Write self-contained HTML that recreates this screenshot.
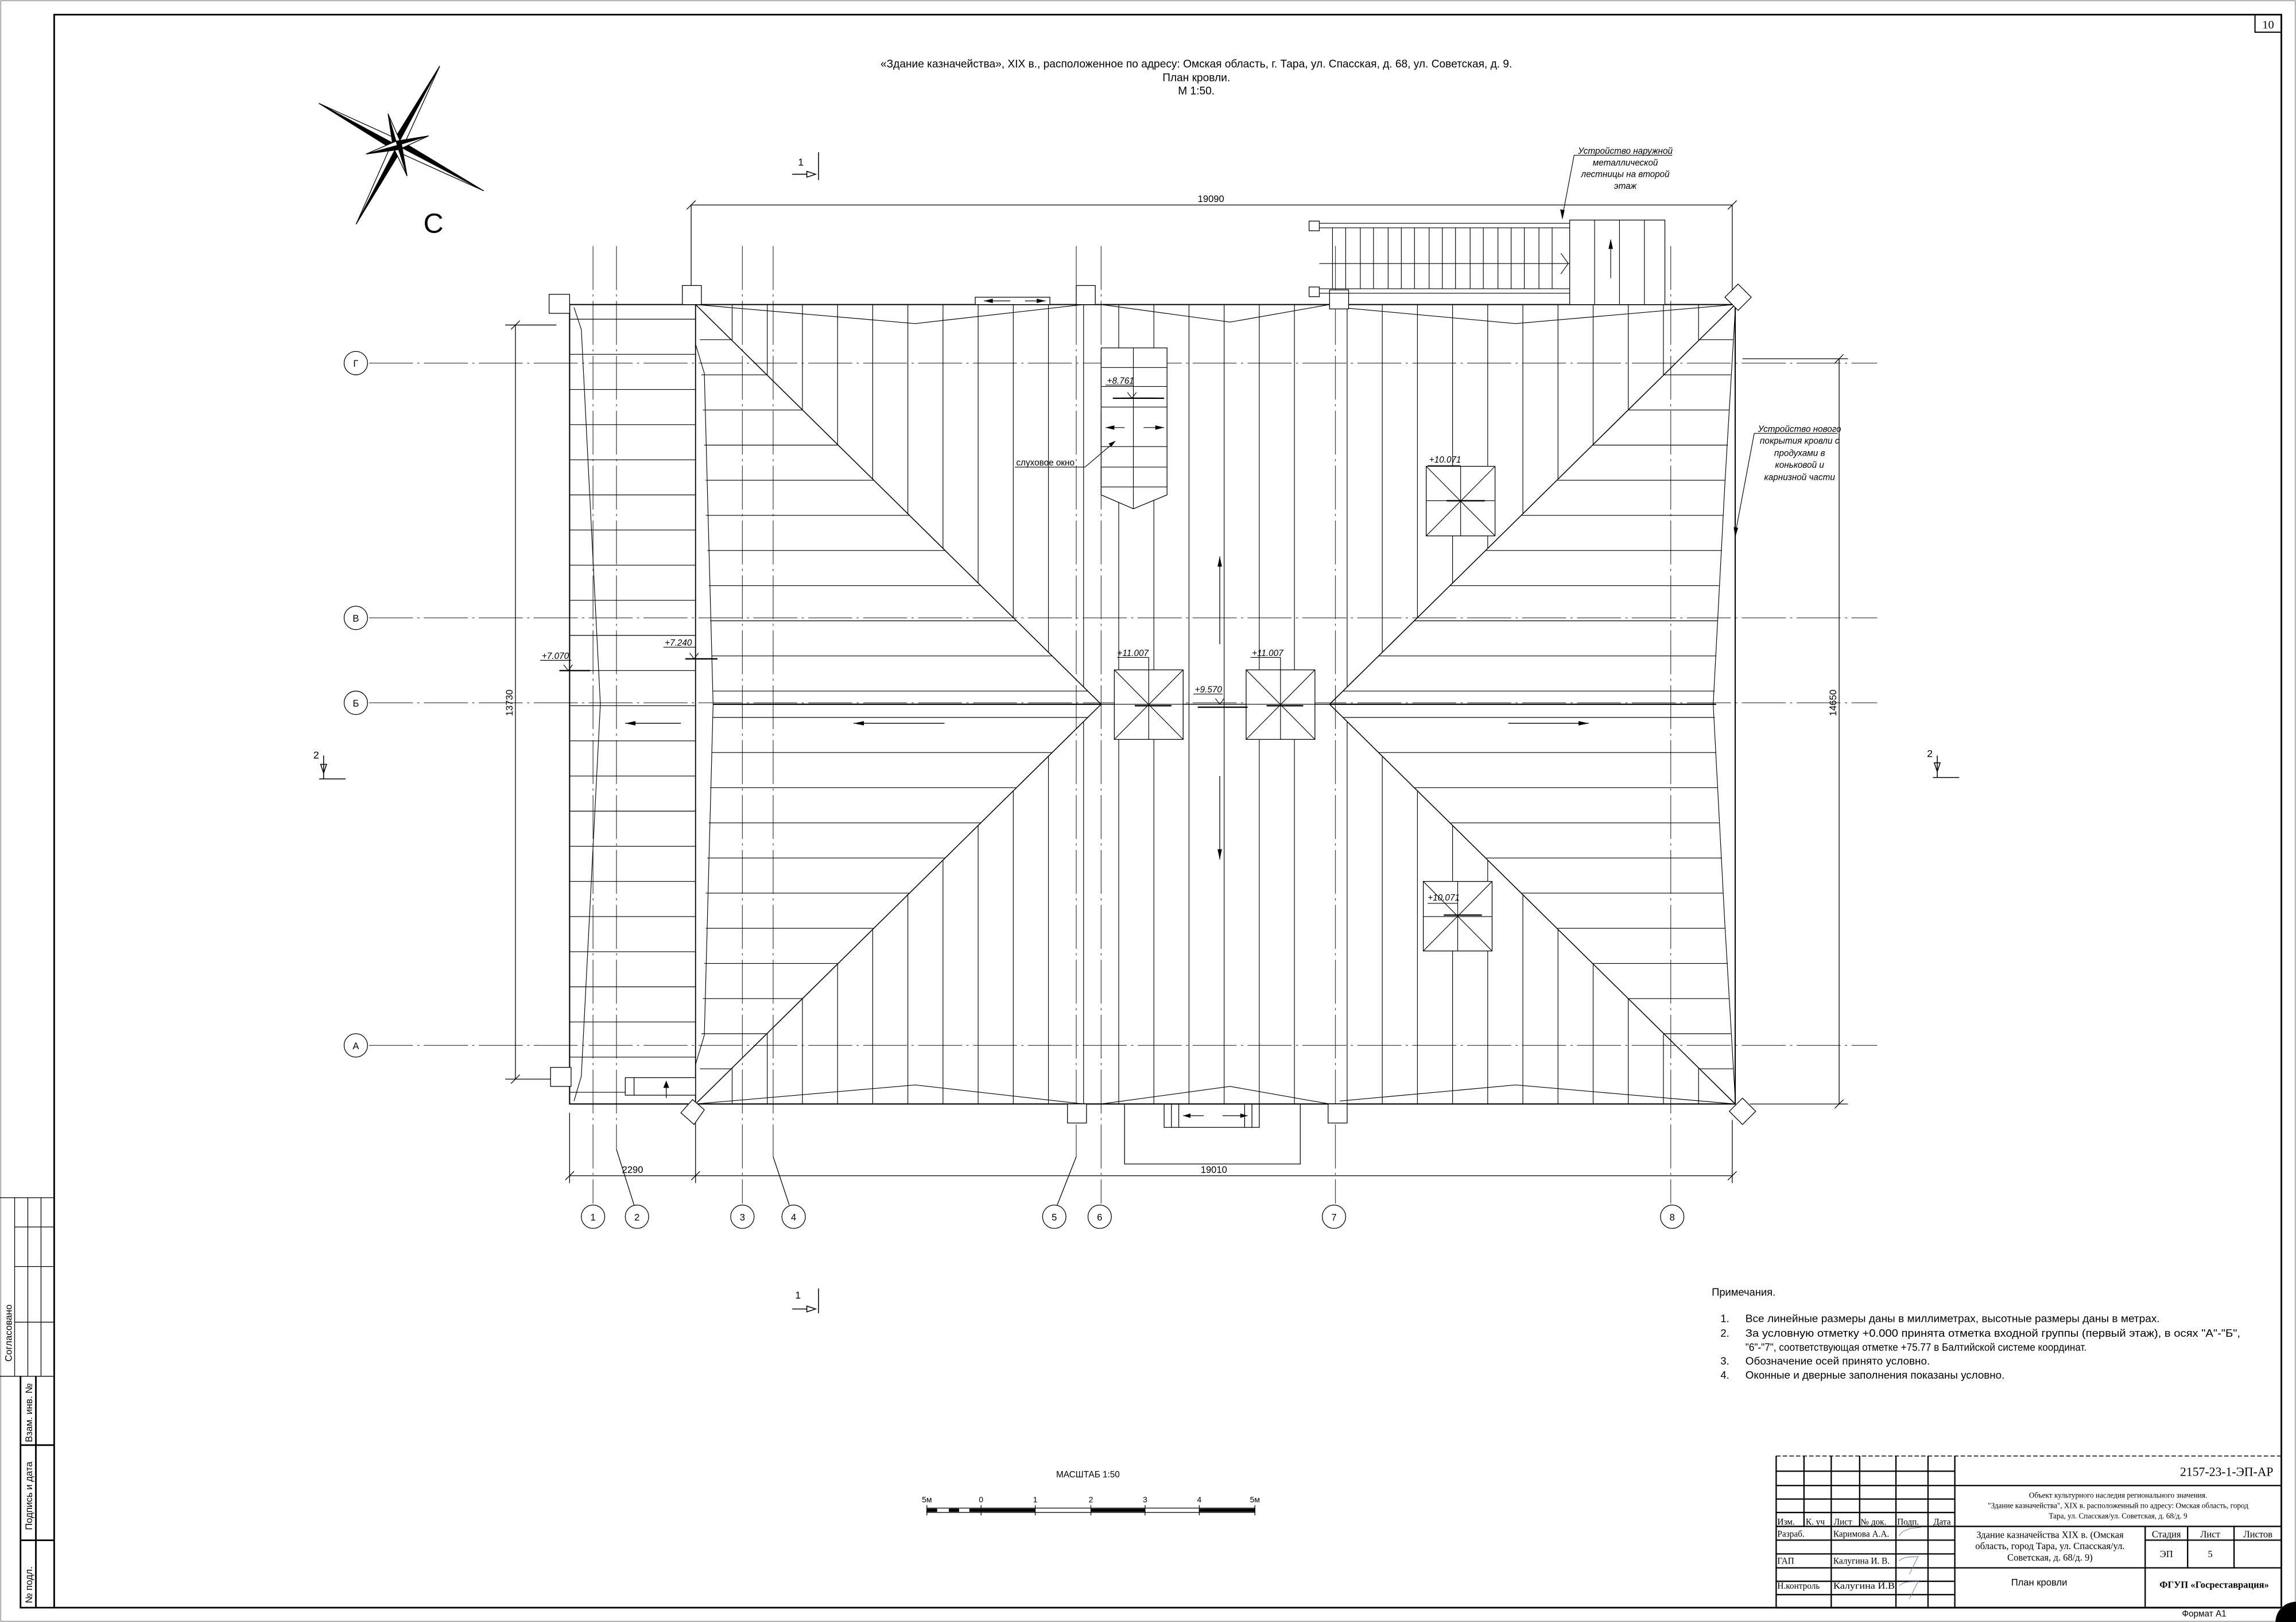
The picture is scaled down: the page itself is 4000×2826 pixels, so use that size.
<!DOCTYPE html>
<html><head><meta charset="utf-8"><style>
html,body{margin:0;padding:0;background:#fff;}
svg{display:block;}
text{font-family:"Liberation Sans Narrow","Liberation Sans","DejaVu Sans",sans-serif;fill:#000;}
.s{font-family:"Liberation Serif","DejaVu Serif",serif;}
</style></head><body>
<svg width="4000" height="2826" viewBox="0 0 1568 1107.8" xmlns="http://www.w3.org/2000/svg">
<rect x="0" y="0" width="1568" height="1107.8" fill="#fff"/>
<rect x="0.5" y="0.5" width="1567" height="1106.8" fill="none" stroke="#999" stroke-width="0.6"/>
<!-- frame -->
<rect x="37" y="10" width="1521" height="1088" fill="none" stroke="#000" stroke-width="1.1"/>
<rect x="1540" y="10" width="18" height="12" fill="none" stroke="#000" stroke-width="0.8"/>
<text x="1549" y="19.5" font-size="8" text-anchor="middle" class="s">10</text>
<path d="M1568 1094 A14 14 0 0 0 1554 1107.8 L1568 1107.8Z" fill="#000"/>

<!-- left stamp -->
<g fill="none" stroke="#000" stroke-width="0.5">
<path d="M0 818H37M10 818V940M19 818V940M28 818V940M10 838H37M10 865H37M10 903H37M0 940H37"/>
</g>
<g fill="none" stroke="#000" stroke-width="1.1">
<path d="M14 940V1098H37M14 987H37M14 1052H37M24.5 940V1098"/>
</g>
<text font-size="6.5" transform="translate(8,930) rotate(-90)">Согласовано</text>
<text font-size="6.5" transform="translate(22,985) rotate(-90)">Взам. инв. №</text>
<text font-size="6.5" transform="translate(22,1045) rotate(-90)">Подпись и дата</text>
<text font-size="6.5" transform="translate(22,1095) rotate(-90)">№ подл.</text>

<!-- title -->
<text x="817" y="46" font-size="7.5" text-anchor="middle">«Здание казначейства», XIX в., расположенное по адресу: Омская область, г. Тара, ул. Спасская, д. 68, ул. Советская, д. 9.</text>
<text x="817" y="55.5" font-size="7.5" text-anchor="middle">План кровли.</text>
<text x="817" y="64.5" font-size="7.5" text-anchor="middle">М 1:50.</text>

<!-- compass -->
<g stroke="#000" stroke-width="0.5" stroke-linejoin="miter">
<polygon points="300.3,45.1 271.3,99.3 267.8,97.4" fill="#000"/>
<polygon points="300.3,45.1 271.3,99.3 274.8,101.2" fill="#fff"/>
<polygon points="243.2,153.1 271.3,99.3 274.8,101.2" fill="#000"/>
<polygon points="243.2,153.1 271.3,99.3 267.8,97.4" fill="#fff"/>
<polygon points="217.8,70.6 271.3,99.3 269.4,102.8" fill="#000"/>
<polygon points="217.8,70.6 271.3,99.3 273.2,95.8" fill="#fff"/>
<polygon points="330.3,130.3 271.3,99.3 273.2,95.8" fill="#000"/>
<polygon points="330.3,130.3 271.3,99.3 269.4,102.8" fill="#fff"/>
<polygon points="265,77.7 271.3,99.3 268.4,100.1" fill="#000"/>
<polygon points="265,77.7 271.3,99.3 274.2,98.5" fill="#fff"/>
<polygon points="292.7,92.8 271.3,99.3 270.4,96.4" fill="#000"/>
<polygon points="292.7,92.8 271.3,99.3 272.2,102.2" fill="#fff"/>
<polygon points="278,120.2 271.3,99.3 274.2,98.4" fill="#000"/>
<polygon points="278,120.2 271.3,99.3 268.4,100.2" fill="#fff"/>
<polygon points="250,105.2 271.3,99.3 272.1,102.2" fill="#000"/>
<polygon points="250,105.2 271.3,99.3 270.5,96.4" fill="#fff"/>
</g>
<text x="296" y="159" font-size="19" text-anchor="middle" font-family="Liberation Sans">С</text>

<!-- section marks -->
<g fill="none" stroke="#000" stroke-width="0.6">
<path d="M559 104V123M541 119H551M551 117L557 119L551 121Z"/>
<path d="M559 880V897M541 894H551M551 892L557 894L551 896Z"/>
<path d="M218 532H236M221 532V516M219 522L221 528L223 522Z"/>
<path d="M1320 531H1338M1323 531V516M1321 521L1323 527L1325 521Z"/>
</g>
<text x="545" y="113" font-size="7">1</text>
<text x="543" y="887" font-size="7">1</text>
<text x="214" y="518" font-size="7">2</text>
<text x="1316" y="517" font-size="7">2</text>

<!-- axes dashed -->
<g fill="none" stroke="#444" stroke-width="0.5" stroke-dasharray="30 3 1.5 3">
<path d="M252 248H1282M252 422H1282M252 480H1282M252 714H1282"/>
<path d="M405 168V822M421 168V785M507 168V822M528 168V790M735 168V790M752 168V822M912 168V822M1141 168V822"/>
</g>
<g fill="none" stroke="#000" stroke-width="0.5">
<path d="M421 785L433 823M528 790L539 823M735 790L722 823"/>
<circle cx="243" cy="248" r="8"/><circle cx="243" cy="422" r="8"/><circle cx="243" cy="480" r="8"/><circle cx="243" cy="714" r="8"/>
<circle cx="405" cy="831" r="8"/><circle cx="435" cy="831" r="8"/><circle cx="507" cy="831" r="8"/><circle cx="542" cy="831" r="8"/>
<circle cx="720" cy="831" r="8"/><circle cx="751" cy="831" r="8"/><circle cx="911" cy="831" r="8"/><circle cx="1142" cy="831" r="8"/>
</g>
<g font-size="6.5" text-anchor="middle">
<text x="243" y="250.5">Г</text><text x="243" y="424.5">В</text><text x="243" y="482.5">Б</text><text x="243" y="716.5">А</text>
<text x="405" y="833.5">1</text><text x="435" y="833.5">2</text><text x="507" y="833.5">3</text><text x="542" y="833.5">4</text>
<text x="720" y="833.5">5</text><text x="751" y="833.5">6</text><text x="911" y="833.5">7</text><text x="1142" y="833.5">8</text>
</g>

<!-- dimensions -->
<g fill="none" stroke="#000" stroke-width="0.5">
<path d="M472 140H1183M472 140V195M1183 140V200M469 143L475 137M1180 143L1186 137"/>
<path d="M389 803H1183M389 760V808M475 760V808M1183 765V808M386 806L392 800M472 806L478 800M1180 806L1186 800"/>
<path d="M352 222V737M345 222H380M345 737H380M349 225L355 219M349 740L355 734"/>
<path d="M1256 245V754M1190 245H1262M1195 754H1262M1253 248L1259 242M1253 757L1259 751"/>
</g>
<g font-size="6.5" text-anchor="middle">
<text x="827" y="138">19090</text>
<text x="829" y="801">19010</text>
<text x="432" y="801">2290</text>
<text transform="translate(350,480) rotate(-90)">13730</text>
<text transform="translate(1254,480) rotate(-90)">14650</text>
</g>

<!-- roof -->
<g fill="none" stroke="#000" stroke-width="0.45">
<!-- outline -->
<path d="M389 208H1185V754H389Z" stroke-width="0.8"/>
<path d="M475 208V754" stroke-width="0.7"/>
<!-- left strip -->
<path d="M389 218H475M389 242H475M389 266H475M389 290H475M389 314H475M389 338H475M389 362H475M389 386H475M389 410H475M389 434H475M389 458H475M389 482H475M389 506H475M389 530H475M389 554H475M389 578H475M389 602H475M389 626H475M389 650H475M389 674H475M389 698H475M389 722H475M389 746H475"/>
<path d="M392 210L397 225L410 481L397 735L392 752"/>
<!-- hips & ridge -->
<path d="M475 208L752 481L475 754M1185 208L908 481L1185 754M752 481H908" stroke-width="0.6"/>
<path d="M487 481H752M908 481H1172" stroke-width="0.9"/>
<path d="M475 235L481 255L487 481L481 707L475 727M1185 212L1178 330L1170 481L1178 632L1185 750"/>
<!-- eaves zigzag -->
<path d="M475 208L625 221L740 208M752 208L840 220L908 208M915 210L1035 221L1185 208"/>
<path d="M475 754L625 741L740 754M752 754L840 742L908 754M915 752L1035 741L1185 754"/>
<!-- top verticals -->
<path d="M500 208V232.6M524 208V256.3M548 208V280M572 208V303.6M596 208V327.3M620 208V350.9M644 208V374.6M668 208V398.2M692 208V421.9M716 208V445.5M740 208V469.2M764 208V481M788 208V481M812 208V481M836 208V481M860 208V481M884 208V481M920 208V469.2M944 208V445.5M968 208V421.9M992 208V398.2M1016 208V374.6M1040 208V350.9M1064 208V327.3M1088 208V303.6M1112 208V280M1136 208V256.3M1160 208V232.6"/>
<!-- bottom verticals -->
<path d="M500 754V729.4M524 754V705.7M548 754V682M572 754V658.4M596 754V634.7M620 754V611.1M644 754V587.4M668 754V563.8M692 754V540.1M716 754V516.5M740 754V492.8M764 754V481M788 754V481M812 754V481M836 754V481M860 754V481M884 754V481M920 754V492.8M944 754V516.5M968 754V540.1M992 754V563.8M1016 754V587.4M1040 754V611.1M1064 754V634.7M1088 754V658.4M1112 754V682M1136 754V705.7M1160 754V729.4"/>
<!-- left horizontals -->
<path d="M478 232H499.4M479 256H523.7M480 280H548.1M481 304H572.4M482 328H596.8M482 352H621.1M483 376H645.5M484 400H669.8M485 424H694.2M486 448H718.5M487 472H742.9M487 490H742.9M486 514H718.5M485 538H694.2M484 562H669.8M483 586H645.5M482 610H621.1M482 634H596.8M481 658H572.4M480 682H548.1M479 706H523.7M478 730H499.4"/>
<!-- right horizontals -->
<path d="M1160.6 232H1184M1136.3 256H1182M1111.9 280H1181M1087.6 304H1180M1063.2 328H1178M1038.9 352H1177M1014.5 376H1176M990.2 400H1174M965.8 424H1173M941.5 448H1172M917.1 472H1171M917.1 490H1171M941.5 514H1172M965.8 538H1173M990.2 562H1174M1014.5 586H1176M1038.9 610H1177M1063.2 634H1178M1087.6 658H1180M1111.9 682H1181M1136.3 706H1182M1160.6 730H1184"/>
</g>
<!-- small squares / diamonds -->
<g fill="#fff" stroke="#000" stroke-width="0.5">
<rect x="375" y="201" width="14" height="13"/>
<rect x="376" y="729" width="14" height="13"/>
<rect x="466" y="195" width="13" height="13"/>
<rect x="735" y="195" width="13" height="13"/>
<rect x="908" y="198" width="13" height="13"/>
<rect x="729" y="754" width="13" height="13"/>
<rect x="907" y="754" width="13" height="13"/>
<polygon points="1187,194 1196,203 1187,212 1178,203"/>
<polygon points="1190,750 1199,759 1190,768 1181,759"/>
<polygon points="473,751 481,758 474,768 465,760"/>
<rect x="666" y="203" width="51" height="5"/>
<rect x="427" y="736" width="48" height="12"/>
</g>
<g fill="none" stroke="#000" stroke-width="0.5">
<path d="M433 736V748M455 740V750M768 754V795H888V754M795 754V770H860V754M800 754V770M805 754V770M850 754V770M855 754V770"/>
<path d="M672 205.5H690M700 205.5H714M808 762H822M835 762H852"/>
</g>
<g fill="#000">
<path d="M672 205.5L678 204L678 207Z M714 205.5L708 204L708 207Z M808 762L813 760.5L813 763.5Z M852 762L847 760.5L847 763.5Z M455 738L453 743L457 743Z"/>
</g>
<!-- stair top right -->
<g fill="#fff" stroke="#000" stroke-width="0.5">
<rect x="894" y="151" width="7" height="6.6"/>
<rect x="894" y="196" width="7" height="6.6"/>
<rect x="1072" y="150.3" width="65" height="57.7"/>
</g>
<g fill="none" stroke="#000" stroke-width="0.45">
<path d="M901 152.5H1072M901 155.6H1072M901 180H1072M901 197.2H1072M901 200.3H1072"/>
<path d="M910 155.6V197.2M919 155.6V197.2M929 155.6V197.2M938 155.6V197.2M948 155.6V197.2M957 155.6V197.2M966 155.6V197.2M976 155.6V197.2M985 155.6V197.2M994 155.6V197.2M1004 155.6V197.2M1013 155.6V197.2M1023 155.6V197.2M1032 155.6V197.2M1041 155.6V197.2M1051 155.6V197.2M1060 155.6V197.2"/>
<path d="M1089 150.3V208M1106 150.3V208M1123 150.3V208M1100 190V166M1066 173L1071 180L1066 187"/>
</g>
<path d="M1100 163L1098.5 170L1101.5 170Z" fill="#000"/>

<!-- dormer window -->
<g fill="#fff" stroke="#000" stroke-width="0.5">
<path d="M752 237.6H797V338L774 347.5L752 338Z"/>
</g>
<g fill="none" stroke="#000" stroke-width="0.45">
<path d="M752 251H797M752 264H797M752 278H797M752 305H797M752 319H797M752 332.6H797M774 237.6V347.5"/>
<path d="M755 292H768M781 292H795"/>
<path d="M760 272H795" stroke-width="0.9"/>
<path d="M741 319L761 302"/>
<path d="M693 319H741"/>
</g>
<path d="M755 292L761 290.5L761 293.5ZM795 292L789 290.5L789 293.5ZM762 301L757 303L759 305Z" fill="#000"/>
<text x="694" y="318" font-size="6">слуховое окно</text>

<!-- skylights -->
<g fill="#fff" stroke="#000" stroke-width="0.5">
<rect x="761" y="457.5" width="47" height="47.5"/>
<rect x="851" y="457.5" width="47" height="47.5"/>
<rect x="974" y="318.5" width="47" height="47.5"/>
<rect x="972" y="602" width="47" height="47.5"/>
</g>
<g fill="none" stroke="#000" stroke-width="0.45">
<path d="M761 457.5L808 505M808 457.5L761 505M784.5 449V505M761 481H808"/>
<path d="M851 457.5L898 505M898 457.5L851 505M874.5 449V505M851 481H898"/>
<path d="M974 318.5L1021 366M1021 318.5L974 366M997.5 318.5V366M974 342H1021"/>
<path d="M972 602L1019 649.5M1019 602L972 649.5M995.5 602V649.5M972 626H1019"/>
</g>
<g fill="none" stroke="#000" stroke-width="0.9">
<path d="M775 482H800M865 482H890M818 483H852M988 342H1014M986 625H1012M766 272H790M382 458H403M468 450H490"/>
</g>
<!-- elevation marks -->
<g fill="none" stroke="#000" stroke-width="0.45">
<path d="M763 449H784.5M854 449H874.5M815 474H835M975 318H997.5M975 617H995.5M755 263H774M369 451H390M453 442H475"/>
<path d="M770 268L773 272L776 268M385 454L388 458L391 454M471 446L474 450L477 446M830 477L833 481L836 477"/>
</g>
<g font-size="6" font-style="italic">
<text x="763" y="448">+11.007</text>
<text x="855" y="448">+11.007</text>
<text x="816" y="473">+9.570</text>
<text x="976" y="316">+10.071</text>
<text x="975" y="615">+10.071</text>
<text x="756" y="262">+8.761</text>
<text x="370" y="450">+7.070</text>
<text x="454" y="441">+7.240</text>
</g>
<!-- flow arrows -->
<g fill="none" stroke="#000" stroke-width="0.5">
<path d="M427 494H465M583 494H645M1030 494H1085M833 380V440M833 530V587"/>
</g>
<path d="M427 494L434 492.5L434 495.5ZM583 494L590 492.5L590 495.5ZM1085 494L1078 492.5L1078 495.5ZM833 380L831.5 387L834.5 387ZM833 587L831.5 580L834.5 580Z" fill="#000"/>

<!-- callouts -->
<g fill="none" stroke="#000" stroke-width="0.45">
<path d="M1142 106H1075L1067 148M1255 296H1198L1185 365"/>
</g>
<path d="M1067 150L1065.5 143L1068.5 143.5ZM1185 367L1184 360L1187 360.5Z" fill="#000"/>
<g font-size="6" text-anchor="middle" font-style="italic">
<text x="1110" y="105">Устройство наружной</text>
<text x="1110" y="113">металлической</text>
<text x="1110" y="121">лестницы на второй</text>
<text x="1110" y="129">этаж</text>
<text x="1229" y="295">Устройство нового</text>
<text x="1229" y="303">покрытия кровли с</text>
<text x="1229" y="311.5">продухами в</text>
<text x="1229" y="319.5">коньковой и</text>
<text x="1229" y="328">карнизной части</text>
</g>

<!-- notes -->
<g font-size="7.2">
<text x="1169" y="885">Примечания.</text>
<text x="1175" y="903">1.</text><text x="1192" y="903" textLength="283" lengthAdjust="spacingAndGlyphs">Все линейные размеры даны в миллиметрах, высотные размеры даны в метрах.</text>
<text x="1175" y="913">2.</text><text x="1192" y="913" textLength="338" lengthAdjust="spacingAndGlyphs">За условную отметку +0.000 принята отметка входной группы (первый этаж), в осях "А"-"Б",</text>
<text x="1192" y="922.5" textLength="233" lengthAdjust="spacingAndGlyphs">"6"-"7", соответствующая отметке +75.77 в Балтийской системе координат.</text>
<text x="1175" y="932">3.</text><text x="1192" y="932" textLength="126" lengthAdjust="spacingAndGlyphs">Обозначение осей принято условно.</text>
<text x="1175" y="941.5">4.</text><text x="1192" y="941.5" textLength="177" lengthAdjust="spacingAndGlyphs">Оконные и дверные заполнения показаны условно.</text>
</g>

<!-- scale bar -->
<text x="743" y="1009" font-size="6" text-anchor="middle">МАСШТАБ 1:50</text>
<g font-size="5.5" text-anchor="middle">
<text x="633" y="1026">5м</text><text x="670" y="1026">0</text><text x="707" y="1026">1</text><text x="745" y="1026">2</text><text x="782" y="1026">3</text><text x="819" y="1026">4</text><text x="857" y="1026">5м</text>
</g>
<g stroke="#000" stroke-width="0.5">
<rect x="633" y="1030" width="224" height="3" fill="#fff"/>
<path d="M633 1031.5H640M648 1031.5H655M662 1031.5H670M670 1031.5H707M745 1031.5H782M819 1031.5H857" stroke-width="2.2"/>
<path d="M633 1028V1035M670 1028V1035M707 1028V1035M745 1028V1035M782 1028V1035M819 1028V1035M857 1028V1035"/>
</g>

<!-- title block -->
<path d="M1213 994.4H1558" stroke="#000" stroke-width="0.6" stroke-dasharray="3 1.5"/>
<g fill="none" stroke="#000" stroke-width="0.9">
<path d="M1213 1004.8H1335M1213 1014.6H1335M1213 1023.8H1335M1213 1033H1335M1213 1042.5H1558M1213 1051.9H1335M1213 1061.3H1335M1213 1070.8H1558M1213 1080H1335M1213 1089.1H1335M1335 1014.6H1558M1465 1051.9H1558"/>
<path d="M1213 994.4V1098M1232 994.4V1042.5M1250.6 994.4V1098M1270 994.4V1042.5M1294.8 994.4V1098M1316.7 994.4V1098M1335 994.4V1098M1465 1042.5V1098M1494 1042.5V1070.8M1525.7 1042.5V1070.8"/>
<path d="M1213 1098H1558" stroke-width="1.1"/>
</g>
<g class="s" font-size="6">
<text x="1552.5" y="1008" font-size="8.5" text-anchor="end" class="s">2157-23-1-ЭП-АР</text>
<text x="1446.5" y="1023" font-size="5.2" text-anchor="middle" class="s">Объект культурного наследия регионального значения.</text>
<text x="1446.5" y="1030" font-size="5.2" text-anchor="middle" class="s">"Здание казначейства", XIX в. расположенный по адресу: Омская область, город</text>
<text x="1446.5" y="1037" font-size="5.2" text-anchor="middle" class="s">Тара, ул. Спасская/ул. Советская, д. 68/д. 9</text>
<text x="1213.8" y="1041.4" class="s">Изм.</text>
<text x="1233.2" y="1041.4" class="s">К. уч</text>
<text x="1252.3" y="1041.4" class="s">Лист</text>
<text x="1270.6" y="1041.4" class="s">№ док.</text>
<text x="1295.6" y="1041.4" class="s">Подп.</text>
<text x="1320.3" y="1041.4" class="s">Дата</text>
<text x="1213.8" y="1049.5" class="s">Разраб.</text>
<text x="1252" y="1049.5" class="s">Каримова А.А.</text>
<text x="1213.8" y="1068" class="s">ГАП</text>
<text x="1252" y="1068" class="s">Калугина И. В.</text>
<text x="1213.8" y="1085" class="s">Н.контроль</text>
<text x="1252" y="1085" class="s" textLength="42" lengthAdjust="spacingAndGlyphs">Калугина И.В</text>
<text x="1400" y="1050.3" text-anchor="middle" class="s" font-size="6.5">Здание казначейства XIX в. (Омская</text>
<text x="1400" y="1058.1" text-anchor="middle" class="s" font-size="6.5">область, город Тара, ул. Спасская/ул.</text>
<text x="1400" y="1065.8" text-anchor="middle" class="s" font-size="6.5">Советская, д. 68/д. 9)</text>
<text x="1479.5" y="1050" text-anchor="middle" class="s" font-size="6.5">Стадия</text>
<text x="1509.4" y="1050" text-anchor="middle" class="s" font-size="6.5">Лист</text>
<text x="1542" y="1050" text-anchor="middle" class="s" font-size="6.5">Листов</text>
<text x="1479.5" y="1063.6" text-anchor="middle" class="s" font-size="6.5">ЭП</text>
<text x="1509.4" y="1063.6" text-anchor="middle" class="s" font-size="6.5">5</text>
<text x="1512.2" y="1084.5" text-anchor="middle" class="s" font-size="6.5" font-weight="bold">ФГУП «Госреставрация»</text>
</g>
<text x="1392.6" y="1083" text-anchor="middle" font-size="6.5" font-family="Liberation Sans">План кровли</text>
<text x="1505.3" y="1104" text-anchor="middle" font-size="6" font-family="Liberation Sans">Формат А1</text>
<g fill="none" stroke="#6a7fb0" stroke-width="0.4">
<path d="M1297 1049C1300 1044 1302 1046 1304 1044L1312 1043M1297 1066C1302 1062 1306 1064 1310 1063L1304 1075M1297 1083C1302 1079 1306 1081 1310 1080L1304 1092"/>
</g>
</svg>
</body></html>
